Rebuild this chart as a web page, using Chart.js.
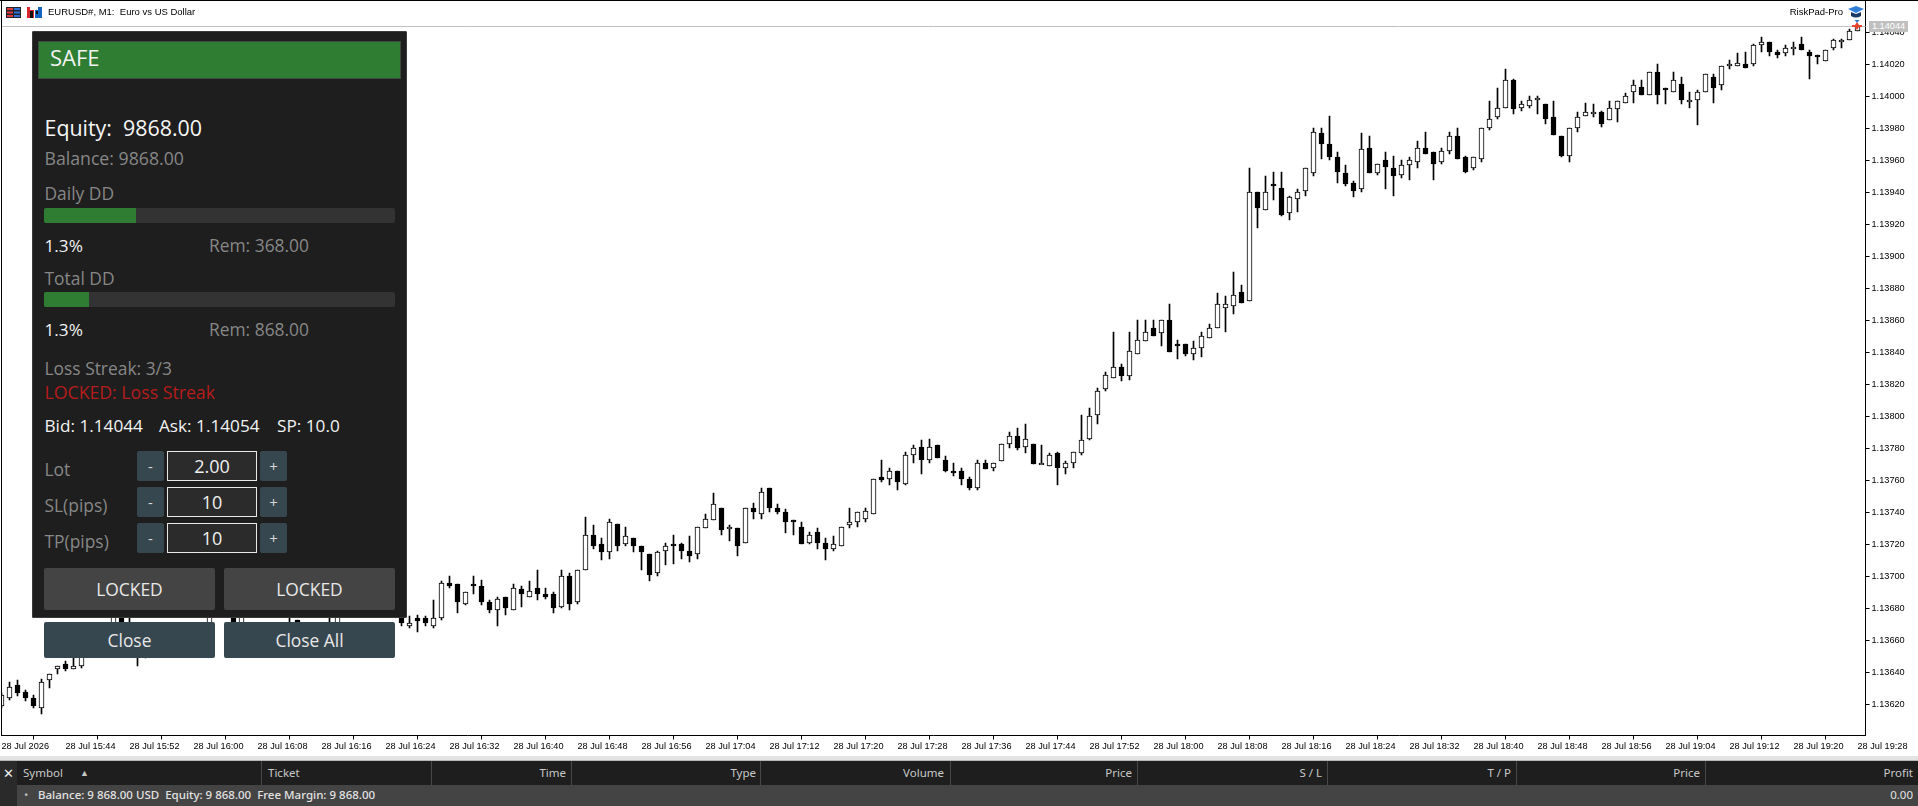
<!DOCTYPE html>
<html lang="en">
<head>
<meta charset="UTF-8">
<title>EURUSD#, M1</title>
<script src="https://cdn.jsdelivr.net/npm/chart.js@4.4.0/dist/chart.umd.min.js"></script>
<style>
  html, body { margin: 0; padding: 0; background: #fff; overflow: hidden; width: 1918px; height: 806px; }
  canvas { position: absolute; left: 0; top: 0; }
  .t { position: absolute; white-space: pre; line-height: 1; font-family: "Open Sans", sans-serif; }
  .box { position: absolute; box-sizing: border-box; display: flex; align-items: center; justify-content: center; font-family: "Open Sans", sans-serif; white-space: pre; border-radius: 2px; }
  .grey { color: #878787; font-size: 17.4px; }
  .white { color: #f2f2f2; font-size: 17.2px; }
  .step { background: #37474f; color: #d8d8d8; font-size: 15px; width: 27px; height: 30px; }
  .val { background: #2b2b2b; border: 1px solid #e8e8e8; color: #f0f0f0; font-size: 18px; left: 167px; width: 90px; height: 30px; border-radius: 0; }
  .act { background: #444; color: #e8e8e8; font-size: 17.4px; width: 171px; height: 42px; top: 568px; }
  .cls { background: #37474f; color: #e8e8e8; font-size: 17.4px; width: 171px; height: 36px; top: 622px; }
  .track { position: absolute; left: 44px; width: 351px; height: 15px; background: #333; border-radius: 2px; overflow: hidden; }
  .fill { height: 100%; background: #2e7d32; }
  .hd { position: absolute; top: 766px; font: 11.5px "Noto Sans", sans-serif; color: #c8c8c8; white-space: pre; line-height: 14px; }
  .hd.r { text-align: right; width: 100px; }
  .div { position: absolute; top: 761px; width: 1px; height: 24px; background: #484848; }
  .top { position: absolute; font: 9.5px "Liberation Sans", sans-serif; color: #000; white-space: pre; line-height: 12px; }
</style>
</head>
<body>
<canvas id="chart" width="1918" height="757"></canvas>

<!-- window edges -->
<div style="position:absolute;left:0;top:0;width:1918px;height:1px;background:#000"></div>
<div style="position:absolute;left:1px;top:0;width:1px;height:736px;background:#000"></div>

<!-- chart header -->
<svg style="position:absolute;left:6px;top:7px" width="15" height="11">
  <rect width="15" height="11" fill="#20242c"/><rect x="1" y="1" width="6" height="2" fill="#e23a3a"/><rect x="1" y="4.5" width="6" height="2" fill="#e23a3a"/><rect x="1" y="8" width="6" height="2" fill="#e23a3a"/>
  <rect x="8" y="1" width="6" height="2" fill="#2f6fd8"/><rect x="8" y="4.5" width="6" height="2" fill="#2f6fd8"/><rect x="8" y="8" width="6" height="2" fill="#2f6fd8"/>
</svg>
<svg style="position:absolute;left:27px;top:7px" width="15" height="11">
  <rect width="7" height="11" fill="#d8262c"/><rect x="8" width="7" height="11" fill="#1565c0"/><rect x="3" y="0" width="8" height="3" fill="#fff"/><rect x="3" y="4" width="3" height="7" fill="#111"/><rect x="9" y="4" width="2" height="3" fill="#111"/>
</svg>
<div class="top" style="left:48px;top:6px">EURUSD#, M1:  Euro vs US Dollar</div>
<div class="top" style="right:75px;top:6px">RiskPad-Pro</div>
<svg style="position:absolute;left:1847px;top:5px" width="18" height="27">
  <polygon points="1,4 9,1 17,4 9,8" fill="#2f7fd8"/><path d="M4,7 L4,11 Q9,14 14,11 L14,7 L9,9 Z" fill="#1b3a66"/>
  <path d="M10,12 l0,3 l2.5,0 l-2.5,3 l-2.500,-3 l2.500,0 Z" fill="#2f7fd8"/>
  <path d="M10,17 l2,3 l3,0 l0,2 l-3,0 l-2,3 l-2,-3 l-3,0 l0,-2 l3,0 Z" fill="#e5432d"/>
</svg>
<div class="t" style="left:1869px;top:21px;width:39px;height:11px;background:#c0c0c0;color:#fff;font:9.2px/11px 'Liberation Sans',sans-serif;text-align:center">1.14044</div>

<!-- risk panel -->
<div style="position:absolute;left:32px;top:31px;width:375px;height:587px;box-sizing:border-box;background:#1e1e1e;border:1px solid #3c3c3c;border-radius:1px"></div>
<div style="position:absolute;left:38px;top:41px;width:363px;height:38px;box-sizing:border-box;background:#2e7d32;border:1px solid #3b4b3c"></div>
<div class="t" style="left:50px;top:46px;font-size:22px;color:#f2f2f2">SAFE</div>
<div class="t" style="left:44.500px;top:117px;font-size:21.400px;color:#f6f6f6">Equity:  9868.00</div>
<div class="t grey" style="left:44.500px;top:150px;font-size:17.700px">Balance: 9868.00</div>
<div class="t grey" style="left:44.500px;top:185px">Daily DD</div>
<div class="track" style="top:208px"><div class="fill" style="width:92px"></div></div>
<div class="t white" style="left:44.500px;top:237px">1.3%</div>
<div class="t grey" style="left:209px;top:237px">Rem: 368.00</div>
<div class="t grey" style="left:44.500px;top:270px">Total DD</div>
<div class="track" style="top:292px"><div class="fill" style="width:45px"></div></div>
<div class="t white" style="left:44.500px;top:321px">1.3%</div>
<div class="t grey" style="left:209px;top:321px">Rem: 868.00</div>
<div class="t grey" style="left:44.500px;top:360px">Loss Streak: 3/3</div>
<div class="t" style="left:44.500px;top:384px;font-size:17.700px;color:#b71c1c">LOCKED: Loss Streak</div>
<div class="t white" style="left:44.500px;top:417px">Bid: 1.14044</div>
<div class="t white" style="left:159px;top:417px">Ask: 1.14054</div>
<div class="t white" style="left:277px;top:417px">SP: 10.0</div>

<div class="t grey" style="left:44.500px;top:461px">Lot</div>
<div class="box step" style="left:137px;top:451px">-</div>
<div class="box val" style="top:451px">2.00</div>
<div class="box step" style="left:260px;top:451px">+</div>
<div class="t grey" style="left:44.500px;top:497px">SL(pips)</div>
<div class="box step" style="left:137px;top:487px">-</div>
<div class="box val" style="top:487px">10</div>
<div class="box step" style="left:260px;top:487px">+</div>
<div class="t grey" style="left:44.500px;top:533px">TP(pips)</div>
<div class="box step" style="left:137px;top:523px">-</div>
<div class="box val" style="top:523px">10</div>
<div class="box step" style="left:260px;top:523px">+</div>

<div class="box act" style="left:44px">LOCKED</div>
<div class="box act" style="left:224px">LOCKED</div>
<div class="box cls" style="left:44px">Close</div>
<div class="box cls" style="left:224px">Close All</div>

<!-- toolbox -->
<div style="position:absolute;left:0;top:756px;width:1918px;height:5px;background:#e4e4e4;border-bottom:1px solid #b8b8b8;box-sizing:border-box"></div>
<div style="position:absolute;left:0;top:761px;width:1918px;height:24px;background:#1e1e1e"></div>
<div style="position:absolute;left:0;top:785px;width:1918px;height:21px;background:#444"></div>
<div style="position:absolute;left:0;top:761px;width:17px;height:45px;background:#2a2a2a"></div>
<div class="hd" style="left:3px;color:#eee;font-size:13px">&#x2715;</div>
<div class="div" style="left:261px"></div><div class="div" style="left:431px"></div><div class="div" style="left:571px"></div>
<div class="div" style="left:760px"></div><div class="div" style="left:950px"></div><div class="div" style="left:1137px"></div>
<div class="div" style="left:1327px"></div><div class="div" style="left:1516px"></div><div class="div" style="left:1705px"></div>
<div class="hd" style="left:23px">Symbol</div>
<div class="hd" style="left:80px;font-size:9px">&#x25B2;</div>
<div class="hd" style="left:268px">Ticket</div>
<div class="hd r" style="left:466px">Time</div>
<div class="hd r" style="left:656px">Type</div>
<div class="hd r" style="left:844px">Volume</div>
<div class="hd r" style="left:1032px">Price</div>
<div class="hd r" style="left:1222px">S / L</div>
<div class="hd r" style="left:1411px">T / P</div>
<div class="hd r" style="left:1600px">Price</div>
<div class="hd r" style="left:1813px">Profit</div>
<div class="hd" style="left:24px;top:788px;color:#bbb">&#x2022;</div>
<div class="hd" style="left:38px;top:788px;color:#e2e2e2;font-weight:500">Balance: 9 868.00 USD  Equity: 9 868.00  Free Margin: 9 868.00</div>
<div class="hd r" style="left:1813px;top:788px;color:#e2e2e2">0.00</div>

<script>
const tickLabels = ['28 Jul 2026', '28 Jul 15:44', '28 Jul 15:52', '28 Jul 16:00', '28 Jul 16:08', '28 Jul 16:16', '28 Jul 16:24', '28 Jul 16:32', '28 Jul 16:40', '28 Jul 16:48',
  '28 Jul 16:56', '28 Jul 17:04', '28 Jul 17:12', '28 Jul 17:20', '28 Jul 17:28', '28 Jul 17:36', '28 Jul 17:44', '28 Jul 17:52', '28 Jul 18:00', '28 Jul 18:08',
  '28 Jul 18:16', '28 Jul 18:24', '28 Jul 18:32', '28 Jul 18:40', '28 Jul 18:48', '28 Jul 18:56', '28 Jul 19:04', '28 Jul 19:12', '28 Jul 19:20', '28 Jul 19:28'];
const priceTicks = [1.1404, 1.1402, 1.14, 1.1398, 1.1396, 1.1394, 1.1392, 1.139, 1.1388, 1.1386, 1.1384, 1.1382, 1.138, 1.1378, 1.1376, 1.1374, 1.1372, 1.137, 1.1368, 1.1366, 1.1364, 1.1362];
const bidPrice = 1.14044;

// M1 bars, the ones behind the panel are guesses
const opens = [1.13619,1.13624,1.13632,1.13628,1.13624,1.13618,1.13635,1.13642,1.13645,1.13642,
1.13644,1.13654,1.13653,1.13658,1.13665,1.13678,1.13665,1.13660,1.13653,1.13664,
1.13660,1.13667,1.13663,1.13664,1.13668,1.13664,1.13667,1.13678,1.13688,1.13675,
1.13665,1.13663,1.13668,1.13663,1.13669,1.13665,1.13664,1.13673,1.13664,1.13669,
1.13665,1.13664,1.13665,1.13668,1.13664,1.13669,1.13665,1.13669,1.13665,1.13678,
1.13679,1.13669,1.13674,1.13674,1.13669,1.13674,1.13696,1.13695,1.13683,1.13695,
1.13694,1.13684,1.13679,1.13687,1.13679,1.13692,1.13687,1.13693,1.13689,1.13689,
1.13681,1.13700,1.13684,1.13704,1.13726,1.13720,1.13715,1.13733,1.13720,1.13724,
1.13719,1.13714,1.13702,1.13716,1.13720,1.13720,1.13716,1.13714,1.13730,1.13735,
1.13743,1.13730,1.13730,1.13721,1.13743,1.13739,1.13755,1.13743,1.13740,1.13735,
1.13731,1.13721,1.13728,1.13721,1.13717,1.13719,1.13732,1.13734,1.13736,1.13739,
1.13762,1.13761,1.13766,1.13758,1.13776,1.13781,1.13773,1.13782,1.13773,1.13766,
1.13766,1.13761,1.13755,1.13771,1.13768,1.13772,1.13783,1.13788,1.13781,1.13783,
1.13770,1.13769,1.13777,1.13768,1.13771,1.13777,1.13786,1.13801,1.13817,1.13824,
1.13831,1.13825,1.13839,1.13847,1.13855,1.13852,1.13860,1.13845,1.13845,1.13839,
1.13843,1.13849,1.13855,1.13868,1.13869,1.13878,1.13872,1.13940,1.13929,1.13945,
1.13943,1.13927,1.13936,1.13941,1.13952,1.13977,1.13970,1.13962,1.13952,1.13946,
1.13942,1.13968,1.13952,1.13960,1.13955,1.13951,1.13957,1.13959,1.13968,1.13965,
1.13959,1.13966,1.13975,1.13962,1.13955,1.13961,1.13980,1.13987,1.13993,1.14010,
1.13993,1.13994,1.13998,1.13995,1.13987,1.13975,1.13963,1.13980,1.13988,1.13989,
1.13990,1.13985,1.13992,1.13996,1.14003,1.14006,1.14001,1.14015,1.14005,1.14003,
1.14008,1.13997,1.13998,1.14003,1.14012,1.14007,1.14019,1.14019,1.14020,1.14020,
1.14032,1.14034,1.14028,1.14027,1.14030,1.14033,1.14028,1.14026,1.14022,1.14030,
1.14034,1.14035,1.14041];
const highs = [1.13627,1.13634,1.13635,1.13629,1.13626,1.13636,1.13639,1.13644,1.13647,1.13654,
1.13657,1.13657,1.13663,1.13668,1.13678,1.13680,1.13679,1.13667,1.13663,1.13667,
1.13670,1.13669,1.13670,1.13670,1.13670,1.13671,1.13678,1.13692,1.13690,1.13678,
1.13679,1.13670,1.13670,1.13670,1.13670,1.13671,1.13679,1.13673,1.13670,1.13670,
1.13671,1.13678,1.13678,1.13670,1.13670,1.13670,1.13671,1.13670,1.13671,1.13685,
1.13682,1.13675,1.13676,1.13675,1.13685,1.13697,1.13700,1.13695,1.13690,1.13700,
1.13698,1.13685,1.13687,1.13687,1.13695,1.13694,1.13697,1.13704,1.13693,1.13690,
1.13704,1.13702,1.13704,1.13737,1.13732,1.13724,1.13736,1.13733,1.13731,1.13724,
1.13719,1.13714,1.13716,1.13721,1.13726,1.13721,1.13725,1.13731,1.13739,1.13752,
1.13743,1.13732,1.13730,1.13743,1.13746,1.13755,1.13755,1.13745,1.13742,1.13735,
1.13734,1.13728,1.13730,1.13724,1.13725,1.13731,1.13743,1.13740,1.13743,1.13761,
1.13773,1.13768,1.13766,1.13778,1.13782,1.13785,1.13786,1.13782,1.13775,1.13771,
1.13768,1.13762,1.13773,1.13773,1.13771,1.13783,1.13790,1.13793,1.13795,1.13783,
1.13782,1.13777,1.13778,1.13772,1.13778,1.13801,1.13805,1.13818,1.13828,1.13853,
1.13833,1.13853,1.13860,1.13860,1.13860,1.13860,1.13870,1.13848,1.13845,1.13847,
1.13853,1.13858,1.13877,1.13875,1.13890,1.13882,1.13955,1.13940,1.13950,1.13953,
1.13953,1.13938,1.13942,1.13955,1.13980,1.13980,1.13988,1.13965,1.13957,1.13947,
1.13977,1.13975,1.13958,1.13965,1.13963,1.13960,1.13962,1.13972,1.13978,1.13965,
1.13968,1.13978,1.13980,1.13963,1.13962,1.13980,1.13997,1.14005,1.14017,1.14011,
1.13997,1.14000,1.14000,1.13995,1.13997,1.13975,1.13980,1.13990,1.13996,1.13995,
1.13991,1.13997,1.13997,1.14002,1.14010,1.14010,1.14015,1.14020,1.14005,1.14015,
1.14012,1.14003,1.14004,1.14014,1.14014,1.14019,1.14023,1.14027,1.14028,1.14033,
1.14037,1.14034,1.14029,1.14032,1.14034,1.14037,1.14029,1.14026,1.14029,1.14036,
1.14036,1.14042,1.14044];
const lows = [1.13618,1.13623,1.13625,1.13622,1.13618,1.13614,1.13630,1.13639,1.13641,1.13642,
1.13643,1.13650,1.13651,1.13657,1.13663,1.13663,1.13660,1.13644,1.13649,1.13654,
1.13657,1.13659,1.13660,1.13661,1.13660,1.13660,1.13664,1.13675,1.13679,1.13665,
1.13663,1.13660,1.13659,1.13661,1.13660,1.13662,1.13662,1.13663,1.13661,1.13662,
1.13662,1.13662,1.13663,1.13660,1.13661,1.13661,1.13662,1.13662,1.13662,1.13675,
1.13669,1.13668,1.13665,1.13669,1.13668,1.13673,1.13693,1.13677,1.13682,1.13689,
1.13682,1.13677,1.13669,1.13676,1.13679,1.13681,1.13687,1.13685,1.13686,1.13677,
1.13680,1.13679,1.13683,1.13704,1.13717,1.13710,1.13711,1.13716,1.13719,1.13715,
1.13704,1.13697,1.13700,1.13707,1.13708,1.13711,1.13709,1.13711,1.13730,1.13735,
1.13726,1.13722,1.13713,1.13721,1.13736,1.13736,1.13740,1.13739,1.13727,1.13726,
1.13720,1.13720,1.13717,1.13710,1.13716,1.13719,1.13730,1.13731,1.13734,1.13739,
1.13759,1.13757,1.13754,1.13757,1.13771,1.13764,1.13771,1.13774,1.13765,1.13763,
1.13757,1.13754,1.13754,1.13767,1.13766,1.13772,1.13780,1.13779,1.13777,1.13770,
1.13770,1.13769,1.13757,1.13764,1.13768,1.13776,1.13785,1.13795,1.13816,1.13824,
1.13822,1.13823,1.13839,1.13847,1.13850,1.13844,1.13840,1.13836,1.13838,1.13835,
1.13837,1.13849,1.13855,1.13853,1.13864,1.13871,1.13872,1.13918,1.13929,1.13935,
1.13925,1.13923,1.13928,1.13938,1.13950,1.13961,1.13960,1.13946,1.13944,1.13937,
1.13940,1.13952,1.13951,1.13942,1.13938,1.13949,1.13948,1.13955,1.13964,1.13948,
1.13958,1.13964,1.13961,1.13952,1.13954,1.13959,1.13979,1.13986,1.13993,1.13989,
1.13991,1.13993,1.13989,1.13983,1.13976,1.13962,1.13959,1.13978,1.13988,1.13987,
1.13981,1.13985,1.13984,1.13996,1.13996,1.14001,1.14001,1.13995,1.13995,1.14003,
1.13995,1.13993,1.13982,1.14003,1.13996,1.14004,1.14017,1.14019,1.14018,1.14019,
1.14028,1.14025,1.14024,1.14025,1.14026,1.14029,1.14011,1.14020,1.14022,1.14029,
1.14030,1.14035,1.14041];
const closes = [1.13626,1.13631,1.13627,1.13624,1.13619,1.13634,1.13639,1.13644,1.13642,1.13644,
1.13654,1.13652,1.13660,1.13665,1.13676,1.13667,1.13670,1.13655,1.13659,1.13659,
1.13667,1.13662,1.13668,1.13669,1.13663,1.13670,1.13676,1.13688,1.13682,1.13668,
1.13677,1.13670,1.13661,1.13668,1.13664,1.13670,1.13669,1.13667,1.13668,1.13664,
1.13670,1.13669,1.13675,1.13664,1.13668,1.13665,1.13670,1.13665,1.13668,1.13683,
1.13671,1.13671,1.13672,1.13671,1.13674,1.13696,1.13694,1.13684,1.13690,1.13694,
1.13684,1.13679,1.13686,1.13680,1.13693,1.13689,1.13691,1.13689,1.13687,1.13680,
1.13700,1.13683,1.13704,1.13726,1.13719,1.13715,1.13734,1.13719,1.13725,1.13719,
1.13715,1.13701,1.13715,1.13719,1.13719,1.13716,1.13713,1.13731,1.13736,1.13745,
1.13729,1.13731,1.13719,1.13743,1.13740,1.13753,1.13743,1.13740,1.13734,1.13734,
1.13720,1.13726,1.13721,1.13717,1.13720,1.13731,1.13734,1.13740,1.13741,1.13761,
1.13760,1.13766,1.13759,1.13776,1.13780,1.13773,1.13781,1.13774,1.13766,1.13765,
1.13761,1.13755,1.13771,1.13767,1.13771,1.13783,1.13788,1.13780,1.13786,1.13770,
1.13771,1.13776,1.13768,1.13771,1.13778,1.13785,1.13800,1.13816,1.13826,1.13831,
1.13825,1.13841,1.13848,1.13853,1.13850,1.13860,1.13840,1.13844,1.13839,1.13843,
1.13850,1.13855,1.13870,1.13870,1.13876,1.13871,1.13940,1.13930,1.13940,1.13944,
1.13926,1.13937,1.13940,1.13955,1.13978,1.13970,1.13962,1.13953,1.13945,1.13941,
1.13967,1.13952,1.13958,1.13956,1.13950,1.13957,1.13960,1.13968,1.13964,1.13958,
1.13966,1.13975,1.13961,1.13953,1.13962,1.13980,1.13986,1.13993,1.14010,1.13992,
1.13995,1.13998,1.13999,1.13986,1.13976,1.13963,1.13980,1.13987,1.13990,1.13990,
1.13983,1.13993,1.13997,1.14000,1.14007,1.14001,1.14015,1.14001,1.14004,1.14010,
1.13998,1.13998,1.14003,1.14014,1.14005,1.14019,1.14020,1.14021,1.14018,1.14032,
1.14034,1.14028,1.14026,1.14030,1.14031,1.14029,1.14025,1.14025,1.14029,1.14035,
1.14035,1.14041,1.14044];

// one empty slot after the last bar so the axis runs on to the right edge
const barLabels = [];
for (let i = 0; i <= opens.length; i++) barLabels.push('m' + i);

// MT5 draws on whole pixels
const snapBars = {
  id: 'snapBars',
  afterDatasetsUpdate(chart) {
    chart.data.datasets.forEach((ds, d) => {
      const meta = chart.getDatasetMeta(d);
      if (ds.type === 'line') {
        meta.data.forEach(pt => { pt.y = Math.floor(pt.y) + 0.5; });
        return;
      }
      const minH = ds.barThickness === 1 ? 1 : 2;
      meta.data.forEach(el => {
        const top = Math.round(Math.min(el.y, el.base));
        let bot = Math.round(Math.max(el.y, el.base));
        if (bot - top < minH) bot = top + minH;
        el.y = top;
        el.base = bot;
        el.height = bot - top;
      });
    });
  }
};

const axisFont = { family: '"Liberation Sans", sans-serif', size: 9.2 };

new Chart(document.getElementById('chart'), {
  data: {
    labels: barLabels,
    datasets: [
      {
        type: 'line',
        data: [{ x: barLabels[0], y: bidPrice }, { x: barLabels[barLabels.length - 1], y: bidPrice }],
        borderColor: '#c0c0c0',
        borderWidth: 1,
        pointRadius: 0,
        order: 3
      },
      {
        type: 'bar',
        data: lows.map((l, i) => [l, highs[i]]),
        backgroundColor: '#000',
        barThickness: 1,
        grouped: false,
        order: 2
      },
      {
        type: 'bar',
        data: opens.map((o, i) => [o, closes[i]]),
        backgroundColor: opens.map((o, i) => closes[i] >= o ? '#fff' : '#000'),
        borderColor: '#000',
        borderWidth: 1,
        borderSkipped: false,
        barThickness: 5,
        grouped: false,
        order: 1
      }
    ]
  },
  options: {
    responsive: false,
    devicePixelRatio: 1,
    animation: false,
    events: [],
    layout: { padding: { left: 1.5, right: 0, top: 0, bottom: 0 } },
    plugins: { legend: { display: false }, tooltip: { enabled: false } },
    scales: {
      x: {
        type: 'category',
        offset: false,
        grid: { drawOnChartArea: false, color: '#000', tickLength: 4 },
        border: { color: '#000' },
        ticks: {
          autoSkip: false, maxRotation: 0, minRotation: 0, align: 'start', padding: 1,
          color: '#000', font: axisFont,
          callback: (v, i) => tickLabels[i]
        },
        afterBuildTicks: s => { s.ticks = s.ticks.filter(t => t.value % 8 === 0); },
        afterFit: s => { s.height = 21.5; s.paddingLeft = 0; s.paddingRight = 0; }
      },
      y: {
        position: 'right',
        min: 1.1360061,
        max: 1.1406030,
        grid: { drawOnChartArea: false, color: '#000', tickLength: 4 },
        border: { color: '#000' },
        ticks: { padding: 2, color: '#000', font: axisFont, callback: v => v.toFixed(5) },
        afterBuildTicks: s => { s.ticks = priceTicks.map(value => ({ value })); },
        afterFit: s => { s.width = 52.5; s.paddingTop = 0; s.paddingBottom = 0; }
      }
    }
  },
  plugins: [snapBars]
});
</script>
</body>
</html>
